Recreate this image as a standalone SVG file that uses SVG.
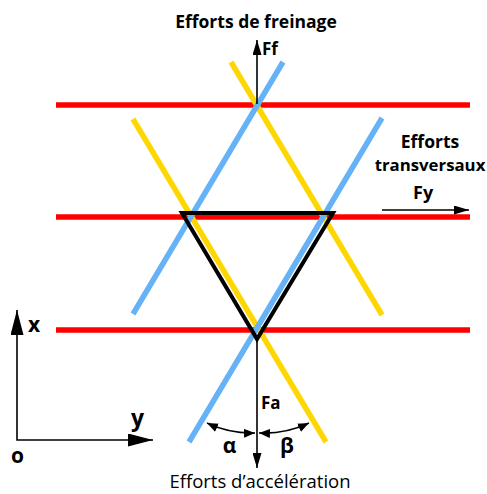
<svg xmlns="http://www.w3.org/2000/svg" width="487" height="494" viewBox="0 0 487 494">
<defs>
<style>
.red{stroke:#FF0000;stroke-width:5.5;fill:none}
.blue{stroke:#66B2F7;stroke-width:5.5;fill:none}
.yel{stroke:#FFD700;stroke-width:5.5;fill:none}
.ax{stroke:#000;stroke-width:1.6;fill:none}
.b{font-family:"Open Sans","DejaVu Sans",sans-serif;font-weight:bold;fill:#000}
.n{font-family:"Open Sans","DejaVu Sans",sans-serif;fill:#000}
</style>
<marker id="ah" viewBox="0 0 15 9" refX="15" refY="4.5" markerWidth="15" markerHeight="9" markerUnits="userSpaceOnUse" orient="auto-start-reverse">
<path d="M0,0 L15,4.5 L0,9 z" fill="#000"/>
</marker>
<marker id="ahs" viewBox="0 0 11 9" refX="11" refY="4.5" markerWidth="11" markerHeight="9" markerUnits="userSpaceOnUse" orient="auto-start-reverse">
<path d="M0,0 L11,4.5 L0,9 z" fill="#000"/>
</marker>
<marker id="ahb" viewBox="0 0 25 13" refX="25" refY="6.5" markerWidth="25" markerHeight="13" markerUnits="userSpaceOnUse" orient="auto-start-reverse">
<path d="M0,0 L25,6.5 L0,13 z" fill="#000"/>
</marker>
</defs>
<rect width="487" height="494" fill="#fff"/>
<g id="red-lines">
<line class="red" x1="56" y1="105" x2="470" y2="105"/>
<line class="red" x1="56" y1="217" x2="470" y2="217"/>
<line class="red" x1="56" y1="330" x2="470" y2="330"/>
</g>
<g id="inclined-lines">
<line class="yel" x1="231" y1="62" x2="382" y2="315"/>
<line class="yel" x1="133" y1="119" x2="326" y2="442"/>
<line class="blue" x1="283" y1="62" x2="133" y2="314"/>
<line class="blue" x1="382" y1="118" x2="189" y2="442"/>
</g>
<g id="triangle">
<polygon points="182,213 333,213 257,339" fill="none" stroke="#000" stroke-width="4"/>
</g>
<g id="connectors">
<line class="ax" x1="257" y1="104" x2="257" y2="40" marker-end="url(#ah)"/>
<line class="ax" x1="257" y1="339" x2="257" y2="468" marker-end="url(#ah)"/>
<line class="ax" x1="382" y1="210" x2="469" y2="210" marker-end="url(#ah)"/>
<path class="ax" stroke-width="2.2" d="M207,423 A105,105 0 0 0 255,433" marker-start="url(#ahs)" marker-end="url(#ahs)"/>
<path class="ax" stroke-width="2.2" d="M259,433 A105,105 0 0 0 309,423" marker-start="url(#ahs)" marker-end="url(#ahs)"/>
<polyline class="ax" stroke-width="2" points="17,310 17,440 153,440" marker-start="url(#ahb)" marker-end="url(#ahb)"/>
</g>
<g id="labels">
<text class="b" x="256" y="28" font-size="17.5" text-anchor="middle">Efforts de freinage</text>
<text class="b" x="262" y="55" font-size="17">Ff</text>
<text class="b" x="430" y="148" font-size="17.5" text-anchor="middle">Efforts</text>
<text class="b" x="430" y="171" font-size="16.8" text-anchor="middle">transversaux</text>
<text class="b" x="413" y="199" font-size="18">Fy</text>
<text class="b" x="261" y="409" font-size="17">Fa</text>
<text class="b" x="229.5" y="453" font-size="21" text-anchor="middle">α</text>
<text class="b" x="287" y="453" font-size="21" text-anchor="middle">β</text>
<text class="n" x="260" y="488" font-size="18.5" text-anchor="middle">Efforts d’accélération</text>
<text class="b" x="28" y="332" font-size="21">x</text>
<text class="b" x="131" y="426" font-size="23">y</text>
<text class="b" x="11" y="463" font-size="21">o</text>
</g>
</svg>
